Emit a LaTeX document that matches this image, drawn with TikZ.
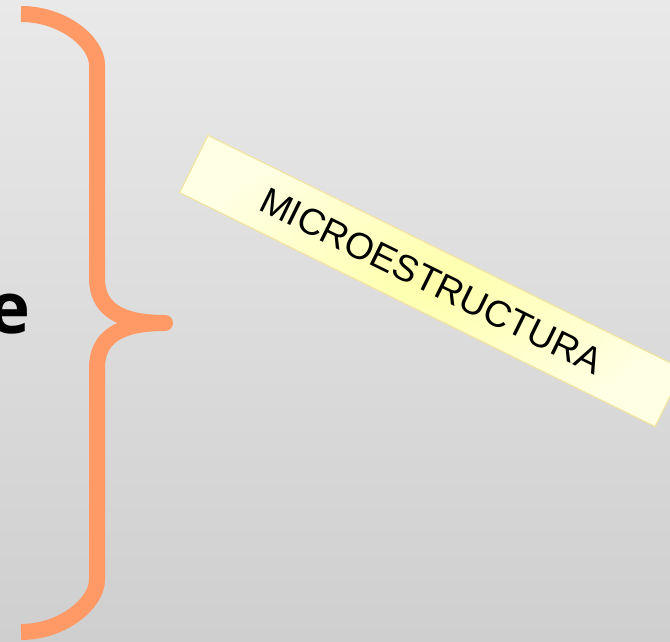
\documentclass[tikz,border=0pt]{standalone}
\usepackage{fontspec}
\setmainfont{Liberation Sans}
\newfontfamily\efont{Open Sans}
\definecolor{bgtop}{HTML}{E9E9E9}
\definecolor{bgbot}{HTML}{CFCFCF}
\definecolor{braceor}{HTML}{FF9966}
\definecolor{boxfill}{HTML}{FFFFC8}
\definecolor{boxedge}{HTML}{F2E3A2}
\tikzset{
  bracestroke/.style={draw=braceor, line width=16pt, line cap=butt, line join=round},
  labelbox/.style={draw=boxedge, line width=1.2pt, inner color=boxfill!85!yellow, outer color=boxfill!50!white,
    minimum width=530pt, minimum height=64pt, inner sep=0pt, font=\fontsize{37}{40}\selectfont, text=black},
  bigletter/.style={inner sep=0pt, font=\efont\bfseries\fontsize{71}{72}\selectfont, text=black}
}
\begin{document}
\begin{tikzpicture}[x=1pt,y=1pt]
\useasboundingbox (0,0) rectangle (670,642);
\clip (0,0) rectangle (670,642);
\shade[top color=bgtop, bottom color=bgbot] (0,0) rectangle (670,642);
% brace
\draw[bracestroke] (21,628) .. controls (63,628) and (97,600) .. (97,577)
  -- (97,364) .. controls (97,334) and (118,319) .. (165,319)
  .. controls (118,319) and (97,304) .. (97,274)
  -- (97,62) .. controls (97,39) and (63,10) .. (21,10);
% partial letter
\node[bigletter, anchor=base east] (eletter) at (31,308) {e};
% rotated label
\node[labelbox, rotate=-26.2] (micro) at (431.5,361) {MICROESTRUCTURA};
\end{tikzpicture}
\end{document}
